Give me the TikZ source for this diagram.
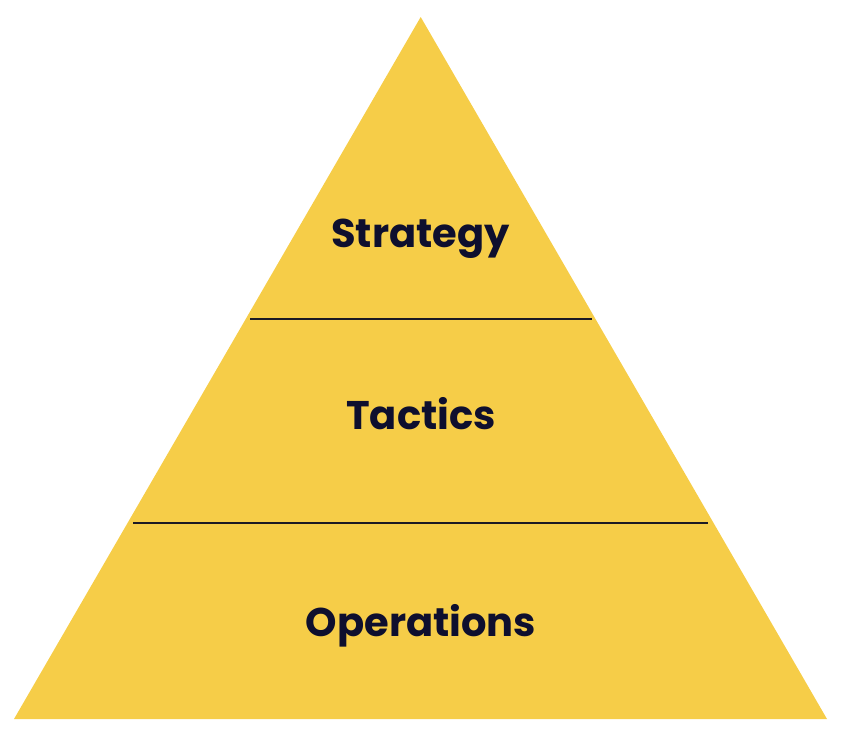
\documentclass[tikz,border=0pt]{standalone}
\usepackage{fontspec}
\setmainfont{Poppins}
\definecolor{pyellow}{HTML}{F6CD48}
\definecolor{pnavy}{HTML}{0E0F2E}
\definecolor{pline}{HTML}{1C1A24}
\begin{document}
\begin{tikzpicture}[x=1pt,y=-1pt,
  label/.style={anchor=base,text=pnavy,font=\fontsize{40}{44}\selectfont\bfseries,inner sep=0pt},
  divider/.style={draw=pline,line width=2.2pt}]
\useasboundingbox (0,0) rectangle (858,744);
\coordinate (apex) at (420.7,17);
\coordinate (bl) at (14,719);
\coordinate (br) at (827,719);
\fill[pyellow] (apex) -- (br) -- (bl) -- cycle;
\coordinate (d1l) at (250,319);
\coordinate (d1r) at (592,319);
\coordinate (d2l) at (133,523);
\coordinate (d2r) at (708,523);
\draw[divider] (d1l) -- (d1r);
\draw[divider] (d2l) -- (d2r);
\node[label] (strategy) at (420.5,247) {Strategy};
\node[label] (tactics) at (421,429) {Tactics};
\node[label] (operations) at (421,636) {Operations};
\end{tikzpicture}
\end{document}
